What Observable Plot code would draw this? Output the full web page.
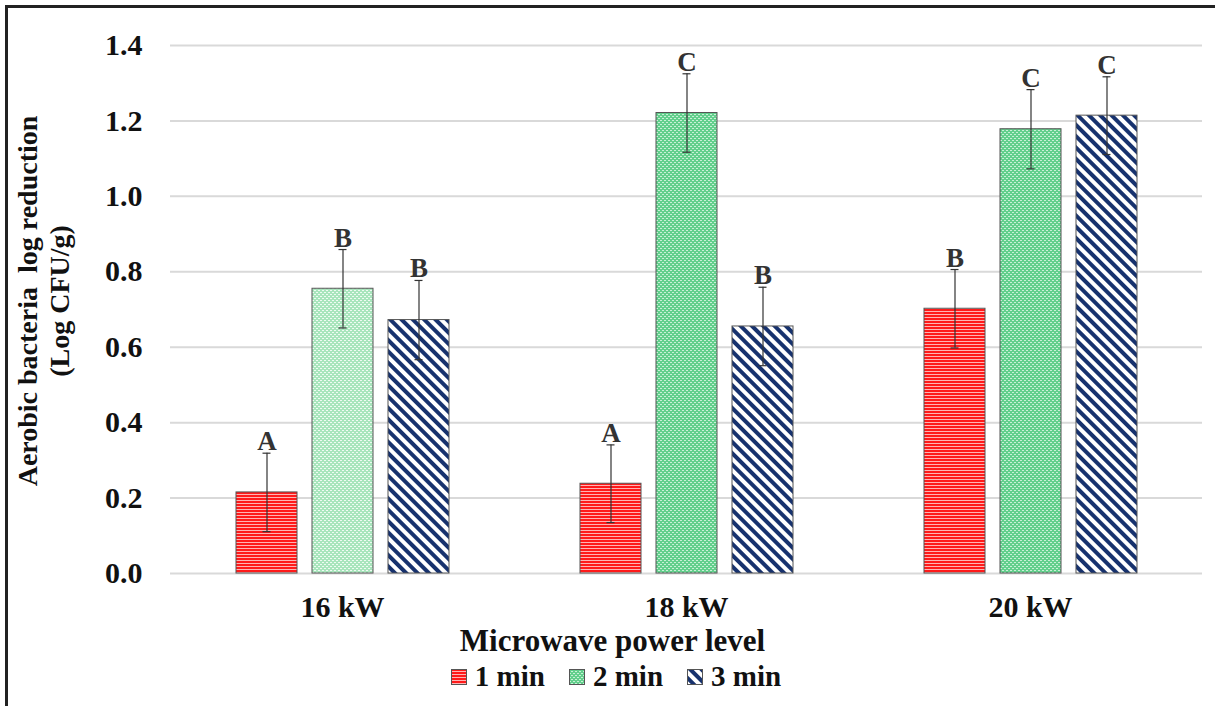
<!DOCTYPE html>
<html>
<head>
<meta charset="utf-8">
<script src="https://cdn.jsdelivr.net/npm/d3@7"></script>
<script src="https://cdn.jsdelivr.net/npm/@observablehq/plot@0.6"></script>
<style>
  html, body { margin: 0; padding: 0; background: #fff; overflow: hidden; }
  body { width: 1215px; height: 706px; position: relative; font-family: "Liberation Serif", "Times New Roman", serif; }
  #frame { position: absolute; left: 5px; top: 5px; width: 1400px; height: 900px; border-left: 3px solid #222; border-top: 3px solid #222; }
  #chart { position: absolute; left: 0; top: 0; }
  #ytitle { position: absolute; left: 44px; top: 301px; transform: translate(-50%, -50%) rotate(-90deg); white-space: pre; text-align: center; font-weight: bold; font-size: 28px; line-height: 32px; color: #111; }
  #xtitle { position: absolute; left: 0; width: 1225px; top: 623px; text-align: center; font-weight: bold; font-size: 31px; color: #111; }
  #legend { position: absolute; left: 0; width: 1232px; top: 660px; display: flex; justify-content: center; gap: 24px; font-weight: bold; font-size: 29px; color: #111; }
  .item { display: flex; align-items: center; gap: 8px; }
  .item svg { display: block; }
</style>
</head>
<body>
<div id="frame"></div>
<div id="chart"></div>
<div id="ytitle">Aerobic bacteria  log reduction
(Log CFU/g)</div>
<div id="xtitle">Microwave power level</div>
<div id="legend"></div>
<script>
// ---- data ----
const powers = ["16 kW", "18 kW", "20 kW"];
const seriesNames = ["1 min", "2 min", "3 min"];
const values16 = [0.215, 0.755, 0.672];
const values18 = [0.238, 1.221, 0.655];
const values20 = [0.702, 1.178, 1.214];
const errors16 = [0.104, 0.104, 0.105];
const errors18 = [0.103, 0.104, 0.104];
const errors20 = [0.104, 0.105, 0.103];
const letters16 = ["A", "B", "B"];
const letters18 = ["A", "C", "B"];
const letters20 = ["B", "C", "C"];
const yTicks = [0, 0.2, 0.4, 0.6, 0.8, 1.0, 1.2, 1.4];

const valueRows = [values16, values18, values20];
const errorRows = [errors16, errors18, errors20];
const letterRows = [letters16, letters18, letters20];

const data = [];
powers.forEach((p, i) => {
  seriesNames.forEach((s, j) => {
    data.push({power: p, series: s, value: valueRows[i][j], err: errorRows[i][j], letter: letterRows[i][j]});
  });
});

const patternFor = d =>
  d.series === "1 min" ? "url(#pRed)" :
  d.series === "2 min" ? (d.power === "16 kW" ? "url(#pGreenLight)" : "url(#pGreen)") :
  "url(#pNavy)";

const font = "'Liberation Serif', 'Times New Roman', serif";

const chart = Plot.plot({
  width: 1215,
  height: 625,
  marginTop: 45,
  marginBottom: 52,
  marginLeft: 170,
  marginRight: 13,
  style: {fontFamily: font, background: "transparent", color: "#111"},
  fx: {domain: powers, padding: 0, label: null},
  x: {domain: seriesNames, paddingInner: 0.2, paddingOuter: 0.863, axis: null},
  y: {domain: [0, 1.4], label: null},
  color: {type: "identity"},
  marks: [
    Plot.gridY(yTicks, {stroke: "#d9d9d9", strokeOpacity: 1, strokeWidth: 2}),
    Plot.axisY({ticks: yTicks, tickFormat: d3.format(".1f"), tickSize: 0, tickPadding: 28, fontSize: 30, fontWeight: "bold", label: null}),
    Plot.axisFx({anchor: "bottom", tickSize: 0, tickPadding: 22, fontSize: 30, fontWeight: "bold", label: null}),
    Plot.barY(data, {fx: "power", x: "series", y: "value", fill: {value: patternFor, scale: "color"}, stroke: "#555", strokeWidth: 1}),
    Plot.ruleX(data, {fx: "power", x: "series", y1: d => d.value - d.err, y2: d => d.value + d.err, stroke: "#333", strokeWidth: 1.2}),
    Plot.tickY(data, {fx: "power", x: "series", y: d => d.value + d.err, stroke: "#333", strokeWidth: 1.2, insetLeft: 26.5, insetRight: 26.5}),
    Plot.tickY(data, {fx: "power", x: "series", y: d => d.value - d.err, stroke: "#333", strokeWidth: 1.2, insetLeft: 26.5, insetRight: 26.5}),
    Plot.text(data, {fx: "power", x: "series", y: d => d.value + d.err, text: "letter", lineAnchor: "bottom", dy: -3, fontSize: 27, fontWeight: "bold", fill: "#333"})
  ]
});

// pattern definitions placed inside the chart svg
const defsMarkup = `
  <pattern id="pRed" patternUnits="userSpaceOnUse" width="4" height="3">
    <rect width="4" height="3" fill="#ff1a1a"/>
    <rect y="2" width="4" height="1" fill="#ffb3b3"/>
  </pattern>
  <pattern id="pGreen" patternUnits="userSpaceOnUse" width="4" height="4">
    <rect width="4" height="4" fill="#62cf8c"/>
    <rect x="0" y="0" width="2" height="1" fill="#c8f0d6"/>
    <rect x="2" y="2" width="2" height="1" fill="#c8f0d6"/>
  </pattern>
  <pattern id="pGreenLight" patternUnits="userSpaceOnUse" width="4" height="4">
    <rect width="4" height="4" fill="#a8e5bc"/>
    <rect x="0" y="0" width="2" height="1" fill="#eefbf2"/>
    <rect x="2" y="2" width="2" height="1" fill="#eefbf2"/>
  </pattern>
  <pattern id="pNavy" patternUnits="userSpaceOnUse" width="8" height="8" patternTransform="rotate(-45)">
    <rect width="8" height="8" fill="#ffffff"/>
    <rect width="4" height="8" fill="#17326e"/>
  </pattern>`;
const defs = document.createElementNS("http://www.w3.org/2000/svg", "defs");
defs.innerHTML = defsMarkup;
chart.insertBefore(defs, chart.firstChild);
document.getElementById("chart").appendChild(chart);

// legend
const legend = document.getElementById("legend");
const legendFill = {"1 min": "url(#pRed)", "2 min": "url(#pGreen)", "3 min": "url(#pNavy)"};
seriesNames.forEach(s => {
  const item = document.createElement("div");
  item.className = "item";
  item.innerHTML = `<svg width="16" height="16"><rect x="0.5" y="0.5" width="15" height="15" fill="${legendFill[s]}" stroke="#555" stroke-width="1"/></svg><span>${s}</span>`;
  legend.appendChild(item);
});
</script>
</body>
</html>
